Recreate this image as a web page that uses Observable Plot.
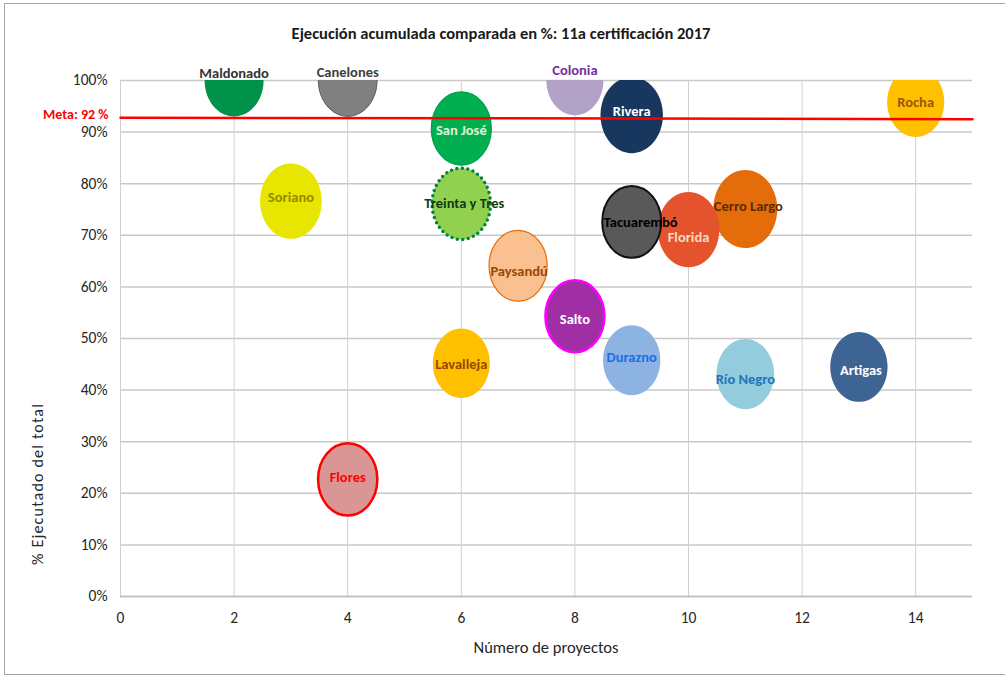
<!DOCTYPE html>
<html><head><meta charset="utf-8">
<script src="https://cdn.jsdelivr.net/npm/d3@7"></script>
<script src="https://cdn.jsdelivr.net/npm/@observablehq/plot@0.6"></script>
<style>
body{margin:0;background:#fff;}
#wrap{position:relative;width:1005px;height:676px;overflow:hidden;font-family:Carlito,Calibri,"Liberation Sans Narrow","Arial Narrow","Open Sans",sans-serif;color:#262626}
#border{position:absolute;left:4px;top:3px;width:1010px;height:672px;border:1.5px solid #A6A6A6;box-sizing:border-box}
#chart{position:absolute;left:0;top:0}
#title{position:absolute;top:23px;left:0;width:1002px;text-align:center;font-weight:bold;font-size:16.5px;color:#1a1a1a}
#xlab{position:absolute;top:637px;left:0;width:1092px;text-align:center;font-size:16.5px}
#ylab{position:absolute;left:37px;top:484px;transform:translate(-50%,-50%) rotate(-90deg);font-size:16px;white-space:nowrap;letter-spacing:1.2px}
</style></head>
<body>
<div id="wrap">
<div id="border"></div>
<div id="chart"></div>
<div id="title">Ejecución acumulada comparada en %: 11a certificación 2017</div>
<div id="xlab">Número de proyectos</div>
<div id="ylab">% Ejecutado del total</div>
</div>
<script>
const departamentos = ["Maldonado","Canelones","Colonia","Rivera","Rocha","San José","Soriano","Treinta y Tres","Tacuarembó","Cerro Largo","Florida","Paysandú","Salto","Durazno","Lavalleja","Río Negro","Artigas","Flores"];
const proyectos = [2,4,8,9,14,6,3,6,9,11,10,7,8,9,6,11,13,4];
const ejecutado = [1.00,1.00,1.00,0.933,0.958,0.907,0.766,0.761,0.726,0.751,0.711,0.641,0.543,0.458,0.452,0.431,0.445,0.227];
const tamano = [107,106,100,120,100,111,117,105,107,126,117,104,107,101,100,102,101,108];
const relleno = ["#00924A","#808080","#B3A2C7","#17375E","#FFC000","#00B050","#E8E600","#92D050","#595959","#E46C0A","#E4532B","#FAC090","#A02FA5","#8DB3E2","#FFC000","#93CDDD","#3E6494","#DA9694"];
const colorTexto = ["#333333","#404040","#7030A0","#FFFFFF","#9C5700","#E2F0D9","#948A00","#0F3D14","#000000","#5A2D00","#FAD9C8","#984807","#FFFFFF","#1A6FE8","#984807","#1F74B8","#FFFFFF","#FF0000"];
const borde = ["#00924A","#595959","#B3A2C7","#17375E","#FFC000","#00A04A","#E8E600","#92D050","#111111","#E46C0A","#E4532B","#E46C0A","#FF00FF","#8DB3E2","#FFC000","#93CDDD","#3E6494","#FF0000"];
const grosorBorde = [0,1,0,0,0,1.2,0,0,2,0,0,1.2,2.5,0,0,0,0,2.5];
const metaX = [0, 15];
const metaY = [0.928, 0.925];
const ticksX = [0,2,4,6,8,10,12,14];
const ticksY = [0,0.1,0.2,0.3,0.4,0.5,0.6,0.7,0.8,0.9,1.0];
const desplazamiento = {"Maldonado":[0,-7],"Canelones":[0,-8],"Colonia":[0,-10],"Rivera":[0,-4],"Rocha":[0,0],"San José":[0,2],"Soriano":[0,-4],"Treinta y Tres":[3,0],"Tacuarembó":[9,0],"Cerro Largo":[3,-3],"Florida":[0,8],"Paysandú":[1,6],"Salto":[0,3],"Durazno":[0,-3],"Lavalleja":[0,1],"Río Negro":[0,5],"Artigas":[2,3],"Flores":[0,-2]};

const datos = departamentos.map((n,i)=>({nombre:n, proyectos:proyectos[i], ejecutado:ejecutado[i], tamano:tamano[i], relleno:relleno[i], colorTexto:colorTexto[i], borde:borde[i], grosor:grosorBorde[i]}));
const meta = metaX.map((x,i)=>({x, y:metaY[i]}));

const K = 0.5522847498;
const elipse = {draw(ctx, size){
  const r = Math.sqrt(size/Math.PI), rx = r, ry = r*1.22, kx = rx*K, ky = ry*K;
  ctx.moveTo(rx,0);
  ctx.bezierCurveTo(rx,ky,kx,ry,0,ry);
  ctx.bezierCurveTo(-kx,ry,-rx,ky,-rx,0);
  ctx.bezierCurveTo(-rx,-ky,-kx,-ry,0,-ry);
  ctx.bezierCurveTo(kx,-ry,rx,-ky,rx,0);
  ctx.closePath();
}};

const fuente = 'Carlito,Calibri,"Liberation Sans Narrow","Arial Narrow","Open Sans",sans-serif';
const etiquetas = departamentos.map(n => Plot.text(datos.filter(d=>d.nombre===n), {
  x:"proyectos", y:"ejecutado", text:"nombre", fill:"colorTexto", fontWeight:"bold", fontSize:14.5,
  dx: desplazamiento[n][0], dy: desplazamiento[n][1]
}));

const plot = Plot.plot({
  width:1005, height:676,
  marginLeft:120, marginRight:33, marginTop:80, marginBottom:80,
  style:{fontFamily:fuente, background:"transparent", color:"#262626"},
  x:{domain:[0,15]},
  y:{domain:[0,1]},
  r:{type:"sqrt", domain:[0,126], range:[0,32]},
  marks:[
    Plot.gridY({ticks:ticksY, stroke:"#C8C8C8", strokeOpacity:1, strokeWidth:1.5}),
    Plot.gridX({ticks:ticksX, stroke:"#D0D0D0", strokeOpacity:1, strokeWidth:1}),
    Plot.ruleY([0], {stroke:"#BFBFBF", strokeWidth:1.5}),
    Plot.axisY({ticks:ticksY, tickFormat:d3.format(".0%"), tickSize:0, tickPadding:13, label:null, fontSize:15.5}),
    Plot.axisX({ticks:ticksX, tickSize:0, tickPadding:15, label:null, fontSize:15.5}),
    Plot.dot(datos.filter(d=>d.nombre!=="Treinta y Tres"), {x:"proyectos", y:"ejecutado", r:"tamano", symbol:elipse, fill:"relleno", stroke:"borde", strokeWidth:"grosor", clip:true}),
    Plot.dot(datos.filter(d=>d.nombre==="Treinta y Tres"), {x:"proyectos", y:"ejecutado", r:"tamano", symbol:elipse, fill:"relleno", stroke:"#00843D", strokeWidth:3.5, strokeDasharray:"0,5.5", strokeLinecap:"round", clip:true}),
    Plot.line(meta, {x:"x", y:"y", stroke:"#FF0000", strokeWidth:2.5}),
    Plot.text([meta[0]], {x:"x", y:"y", text:()=>"Meta: 92 %", textAnchor:"end", dx:-12, dy:-3.5, fill:"#FF0000", fontWeight:"bold", fontSize:14}),
    ...etiquetas
  ]
});
document.getElementById("chart").appendChild(plot);
</script>
</body></html>
